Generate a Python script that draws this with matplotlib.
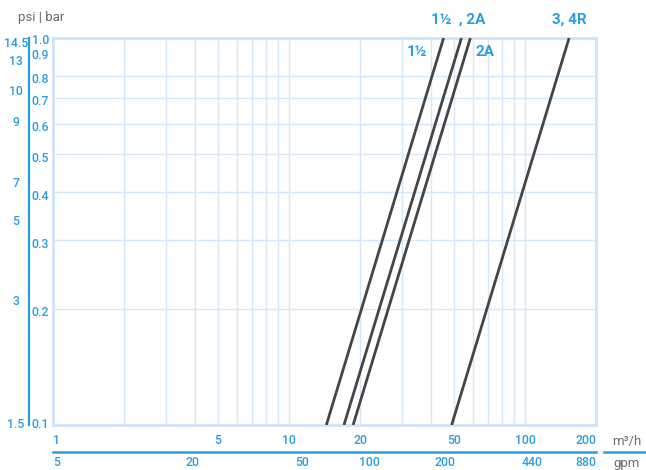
import matplotlib.pyplot as plt
from matplotlib import transforms as mtrans

plt.rcParams['font.family'] = ['Roboto', 'DejaVu Sans']

BLUE = '#2a9de0'
FRAME = '#cfe4f6'
GRID = '#d6e8f7'
GREY = '#6b6b6b'
DARK = '#454545'

# flow axis (m3/h) and its gpm equivalents
FLOW_TICKS = [1, 5, 10, 20, 50, 100, 200]
GPM_LABELS = ['5', '20', '50', '100', '200', '440', '880']
GPM_AT_FLOW = [1, 3.9, 11.4, 21.9, 45.7, 107, 200]

# pressure axis (bar) and psi equivalents
BAR_TICKS = [0.1, 0.2, 0.3, 0.4, 0.5, 0.6, 0.7, 0.8, 0.9, 1.0]
PSI_LABELS = ['14.5', '13', '10', '9', '7', '5', '3', '1.5']
PSI_AT_BAR = [0.97, 0.872, 0.726, 0.604, 0.421, 0.336, 0.209, 0.1]

GRID_FLOW = [2, 3, 4, 5, 6, 7, 8, 9, 10, 20, 30, 40, 50, 60, 70, 80, 90, 100]
GRID_BAR = [0.2, 0.3, 0.4, 0.5, 0.6, 0.7, 0.8]

# valve curves: flow at 0.1 bar and at 1.0 bar
CURVES = ['1½', '1½ / 2A', '2A', '3, 4R']
DP_ENDS = [0.1, 1.0]
FLOW_LOW = [14.4, 17.1, 18.7, 48.9]
FLOW_HIGH = [45.2, 53.8, 58.7, 153.8]

fig = plt.figure(figsize=(6.46, 4.70), dpi=100)
ax = fig.add_axes([53 / 646, 1 - 425 / 470, 543 / 646, 387 / 470])
ax.set_xscale('log')
ax.set_yscale('log')
ax.set_xlim(1, 200)
ax.set_ylim(0.1, 1.0)

for x in GRID_FLOW:
    ax.axvline(x, color=GRID, lw=1.0, zorder=1)
for y in GRID_BAR:
    ax.axhline(y, color=GRID, lw=1.0, zorder=1)
for s in ax.spines.values():
    s.set_color(FRAME)
    s.set_linewidth(2.0)

ax.set_xticks([])
ax.set_yticks([])
ax.minorticks_off()

for name, q0, q1 in zip(CURVES, FLOW_LOW, FLOW_HIGH):
    ax.plot([q0, q1], DP_ENDS, color=DARK, lw=2.0, solid_capstyle='butt', zorder=3)

lbl = dict(color=BLUE, fontsize=8.8, fontweight='medium')

# bar labels left of the frame
ytr = mtrans.blended_transform_factory(ax.transAxes, ax.transData)
for v in BAR_TICKS:
    dy = -4
    if v == 1.0:
        dy = -2
    if v == 0.9:
        dy = 0.5
    if v == 0.1:
        dy = 0
    tr = mtrans.offset_copy(ytr, fig=fig, x=-4, y=dy, units='dots')
    ax.text(0, v, f'{v:.1f}', transform=tr, ha='right', va='center', **lbl)

# psi labels and the separator line
for lab, v in zip(PSI_LABELS, PSI_AT_BAR):
    ax.text(-37 / 543, v, lab, transform=ytr, ha='center', va='center', **lbl)
ax.plot([-24 / 543, -24 / 543], [0, 1], transform=ax.transAxes, color=BLUE,
        lw=1.6, clip_on=False)

# flow labels
xtr = mtrans.blended_transform_factory(ax.transData, ax.transAxes)
for i, v in enumerate(FLOW_TICKS):
    ha = 'left' if i == 0 else ('right' if i == len(FLOW_TICKS) - 1 else 'center')
    ax.text(v, -16 / 387, str(v), transform=xtr, ha=ha, va='center', **lbl)
for i, (lab, v) in enumerate(zip(GPM_LABELS, GPM_AT_FLOW)):
    ha = 'left' if i == 0 else ('right' if i == len(GPM_LABELS) - 1 else 'center')
    ax.text(v, -38 / 387, lab, transform=xtr, ha=ha, va='center', **lbl)
ax.plot([0, 1], [-27 / 387, -27 / 387], transform=ax.transAxes, color=BLUE,
        lw=1.8, clip_on=False)
fig.add_artist(plt.Line2D([604 / 646, 1], [1 - 452 / 470, 1 - 452 / 470],
                          color=BLUE, lw=1.8, transform=fig.transFigure))

fig.text(627 / 646, 1 - 441 / 470, 'm³/h', color=GREY, fontsize=9.5,
         ha='center', va='center')
fig.text(627 / 646, 1 - 463 / 470, 'gpm', color=GREY, fontsize=9.5,
         ha='center', va='center')
fig.text(18 / 646, 1 - 17 / 470, 'psi | bar', color=GREY, fontsize=9.5,
         ha='left', va='center')

# curve annotations
ann = dict(color=BLUE, fontsize=11, fontweight='bold', va='center', ha='center')
ax.text(34.7, 0.922, '1½', **ann)
ax.text(67.6, 0.922, '2A', **ann)
ax.text(51.9, 1.0465, '1½  , 2A', transform=xtr, **ann)
ax.text(153.9, 1.0465, '3, 4R', transform=xtr, **ann)

fig.savefig('out.png', dpi=100)
